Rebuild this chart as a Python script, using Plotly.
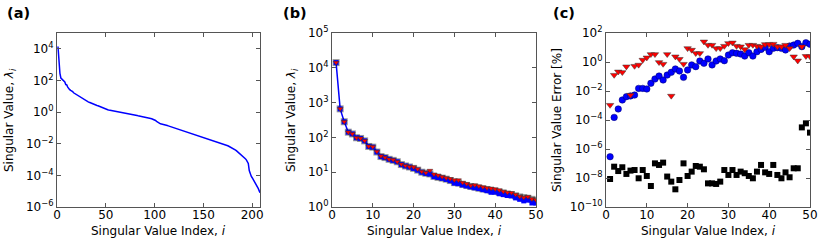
import plotly.graph_objects as go

# ---------------- data ----------------
# Panel (a): log10 of singular values, index 1..208
sv_log10 = [
    4.15, 2.82, 2.45, 2.15, 2.10, 1.99, 1.97, 1.90, 1.74, 1.72,
    1.58, 1.45, 1.42, 1.37, 1.34, 1.30, 1.22, 1.18, 1.15, 1.11,
    1.06, 1.00, 0.97, 0.95, 0.88, 0.85, 0.83, 0.80, 0.76, 0.70,
    0.69, 0.65, 0.62, 0.59, 0.57, 0.54, 0.52, 0.50, 0.47, 0.45,
    0.42, 0.40, 0.37, 0.35, 0.32, 0.29, 0.27, 0.25, 0.22, 0.19,
    0.16, 0.15, 0.13, 0.12, 0.11, 0.10, 0.08, 0.07, 0.06, 0.05,
    0.04, 0.03, 0.01, 0.00, -0.01, -0.02, -0.03, -0.04, -0.05, -0.06,
    -0.07, -0.08, -0.09, -0.11, -0.12, -0.13, -0.14, -0.16, -0.17, -0.18,
    -0.20, -0.21, -0.23, -0.24, -0.26, -0.27, -0.29, -0.30, -0.32, -0.33,
    -0.35, -0.36, -0.37, -0.38, -0.39, -0.40, -0.42, -0.44, -0.46, -0.49,
    -0.53, -0.58, -0.63, -0.68, -0.72, -0.74, -0.75, -0.76, -0.78, -0.79,
    -0.81, -0.83, -0.85, -0.87, -0.89, -0.91, -0.93, -0.95, -0.97, -0.99,
    -1.01, -1.03, -1.05, -1.07, -1.09, -1.11, -1.14, -1.16, -1.18, -1.21,
    -1.23, -1.25, -1.27, -1.29, -1.31, -1.33, -1.35, -1.37, -1.38, -1.40,
    -1.42, -1.44, -1.46, -1.48, -1.50, -1.52, -1.54, -1.55, -1.57, -1.58,
    -1.60, -1.62, -1.64, -1.66, -1.68, -1.70, -1.72, -1.74, -1.77, -1.79,
    -1.81, -1.83, -1.85, -1.87, -1.90, -1.92, -1.94, -1.96, -1.98, -2.01,
    -2.03, -2.05, -2.08, -2.10, -2.13, -2.16, -2.19, -2.22, -2.25, -2.28,
    -2.32, -2.36, -2.40, -2.45, -2.50, -2.55, -2.60, -2.65, -2.71, -2.77,
    -2.83, -2.89, -2.95, -3.02, -3.10, -3.25, -3.70, -3.92, -4.05, -4.15,
    -4.25, -4.35, -4.45, -4.55, -4.68, -4.80, -4.95, -5.10,
]
sv_index = list(range(1, len(sv_log10) + 1))
sv = [10 ** v for v in sv_log10]

# Panel (b)/(c): first 50 singular values and approximation errors [%] (log10)
idx50 = list(range(1, 51))
err_red_log10 = [
    -2.97, -0.90, -0.67, -0.71, -0.32, -2.28, -0.28, -0.20, 0.14, 0.30,
    0.53, 0.53, -0.02, -0.14, 0.53, -2.34, 0.37, 0.20, -0.14, 0.94,
    0.83, 0.60, 0.60, 1.40, 1.17, 1.17, 0.94, 0.94, 1.10, 1.29,
    1.33, 1.10, 1.06, 0.87, 1.17, 1.17, 1.10, 1.06, 1.22, 1.22,
    1.24, 1.06, 1.06, 1.17, 0.94, 0.37, 0.09, 1.06, 0.40, 0.38,
]
err_blue_log10 = [
    -6.53, -3.82, -3.24, -2.62, -2.39, -2.34, -2.28, -1.82, -1.82, -1.86,
    -1.47, -1.17, -0.97, -1.24, -0.90, -0.71, -0.48, -0.62, -1.06, -0.55,
    -0.20, -0.32, 0.07, -0.09, 0.21, -0.20, 0.07, 0.21, 0.09, 0.48,
    0.64, 0.60, 0.55, 0.41, 0.64, 0.41, 0.71, 0.87, 1.01, 0.71,
    0.94, 0.99, 0.94, 0.83, 1.10, 1.17, 1.29, 1.06, 1.33, 1.22,
]
err_black_log10 = [
    -8.07, -7.22, -7.52, -7.26, -7.72, -7.49, -7.45, -8.02, -7.45, -7.86,
    -8.55, -6.99, -7.10, -6.94, -7.90, -8.25, -8.78, -8.14, -6.99, -7.86,
    -7.56, -7.17, -7.22, -7.40, -8.37, -8.37, -8.41, -8.25, -7.45, -7.79,
    -7.45, -7.79, -7.56, -7.67, -7.86, -8.02, -7.56, -7.10, -7.61, -7.72,
    -7.10, -7.79, -8.02, -7.61, -7.95, -7.33, -7.33, -4.51, -4.23, -4.87,
]
err_red = [10 ** v for v in err_red_log10]
err_blue = [10 ** v for v in err_blue_log10]
err_black = [10 ** v for v in err_black_log10]

sv50 = sv[:50]
approx_black = [s * (1 + e / 100) for s, e in zip(sv50, err_black)]
approx_blue = [s * (1 - e / 100) for s, e in zip(sv50, err_blue)]
approx_red = [s * (1 + e / 100) for s, e in zip(sv50, err_red)]

def pow_label(p):
    return "10<sup>" + (str(p) if p >= 0 else "\u2212" + str(-p)) + "</sup>"

ya_exp = [-6, -4, -2, 0, 2, 4]
yb_exp = [0, 1, 2, 3, 4, 5]
yc_exp = [-10, -8, -6, -4, -2, 0, 2]
xa_ticks = [0, 50, 100, 150, 200]
xbc_ticks = [0, 10, 20, 30, 40, 50]

x_title = "Singular Value Index, <i>i</i>"
y_titles = ["Singular Value, <i>λ</i><sub><i>i</i></sub>",
            "Singular Value, <i>λ</i><sub><i>i</i></sub>",
            "Singular Value Error [%]"]
panel_labels = ["(a)", "(b)", "(c)"]

# ---------------- figure ----------------
W, H = 822, 243
FONT = "DejaVu Sans"
AXC = "#555555"
BLUE = "#0000ff"
RED = "#ff0000"

fig = go.Figure()

fig.add_trace(go.Scatter(x=sv_index, y=sv, mode="lines",
                         line=dict(color=BLUE, width=1.5),
                         xaxis="x", yaxis="y", showlegend=False))

fig.add_trace(go.Scatter(x=idx50, y=sv50, mode="lines",
                         line=dict(color=BLUE, width=1.5),
                         xaxis="x2", yaxis="y2", showlegend=False))
fig.add_trace(go.Scatter(x=idx50, y=approx_black, mode="markers",
                         marker=dict(symbol="square", size=7, color="rgba(0,0,0,0.4)",
                                     line=dict(width=0)),
                         xaxis="x2", yaxis="y2", showlegend=False))
fig.add_trace(go.Scatter(x=idx50, y=approx_blue, mode="markers",
                         marker=dict(symbol="square", size=5, color=BLUE,
                                     line=dict(width=0)),
                         xaxis="x2", yaxis="y2", showlegend=False))
fig.add_trace(go.Scatter(x=idx50, y=approx_red, mode="markers",
                         marker=dict(symbol="triangle-down", size=5, color=RED,
                                     line=dict(width=0.5, color="#333")),
                         xaxis="x2", yaxis="y2", showlegend=False))

fig.add_trace(go.Scatter(x=idx50, y=err_black, mode="markers",
                         marker=dict(symbol="square", size=6, color="black",
                                     line=dict(width=0)),
                         xaxis="x3", yaxis="y3", showlegend=False))
fig.add_trace(go.Scatter(x=idx50, y=err_blue, mode="markers",
                         marker=dict(symbol="circle", size=6.5, color=BLUE,
                                     line=dict(width=0.5, color="#000066")),
                         xaxis="x3", yaxis="y3", showlegend=False))
fig.add_trace(go.Scatter(x=idx50, y=err_red, mode="markers",
                         marker=dict(symbol="triangle-down", size=6.5, color=RED,
                                     line=dict(width=0.5, color="#333")),
                         xaxis="x3", yaxis="y3", showlegend=False))

ydom = [1 - 207 / H, 1 - 33 / H]
def xdom(a, b):
    return [a / W, b / W]

tickfont = dict(family=FONT, size=12, color="black")
titlefont = dict(family=FONT, size=12, color="black")

def xaxis_cfg(dom, rng, ticks, anchor):
    return dict(domain=dom, range=rng, tickvals=ticks, ticks="inside", ticklen=4,
                tickcolor=AXC, showline=True, linecolor=AXC, linewidth=1, mirror="ticks",
                showgrid=False, zeroline=False, tickfont=tickfont, anchor=anchor,
                ticklabelstandoff=-3, automargin=False)

def yaxis_cfg(rng, exps, anchor):
    return dict(domain=ydom, type="log", range=rng, tickvals=[10 ** e for e in exps],
                ticktext=[pow_label(e) for e in exps], ticks="inside", ticklen=4,
                tickcolor=AXC, showline=True, linecolor=AXC, linewidth=1, mirror="ticks",
                showgrid=False, zeroline=False, tickfont=tickfont, anchor=anchor,
                automargin=False)

panel_x = [(57, 260), (332, 536), (606, 810)]
ytitle_x = [10, 292, 557]
label_x = [5, 281, 551]
annotations = []
for k in range(3):
    x0, x1 = panel_x[k]
    annotations.append(dict(text=x_title, x=(x0 + x1) / 2 / W, y=1 - 231 / H,
                            xref="paper", yref="paper", xanchor="center", yanchor="middle",
                            showarrow=False, font=titlefont))
    annotations.append(dict(text=y_titles[k], x=ytitle_x[k] / W, y=1 - 120 / H,
                            xref="paper", yref="paper", xanchor="center", yanchor="middle",
                            textangle=-90, showarrow=False, font=titlefont))
    annotations.append(dict(text="<b>" + panel_labels[k] + "</b>", x=label_x[k] / W,
                            y=1 - 12.5 / H, xref="paper", yref="paper",
                            xanchor="left", yanchor="middle", showarrow=False,
                            font=dict(family=FONT, size=14.5, color="black")))

fig.update_layout(
    width=W, height=H,
    margin=dict(l=0, r=0, t=0, b=0),
    paper_bgcolor="white", plot_bgcolor="white",
    font=dict(family=FONT, size=12, color="black"),
    xaxis=xaxis_cfg(xdom(*panel_x[0]), [0, 208], xa_ticks, "y"),
    xaxis2=xaxis_cfg(xdom(*panel_x[1]), [0, 50], xbc_ticks, "y2"),
    xaxis3=xaxis_cfg(xdom(*panel_x[2]), [0, 50], xbc_ticks, "y3"),
    yaxis=yaxis_cfg([-6, 5], ya_exp, "x"),
    yaxis2=yaxis_cfg([0, 5], yb_exp, "x2"),
    yaxis3=yaxis_cfg([-10, 2], yc_exp, "x3"),
    annotations=annotations,
)

fig.write_html("out.html", config={"displayModeBar": False},
               post_script="document.body.style.margin='0px';")
